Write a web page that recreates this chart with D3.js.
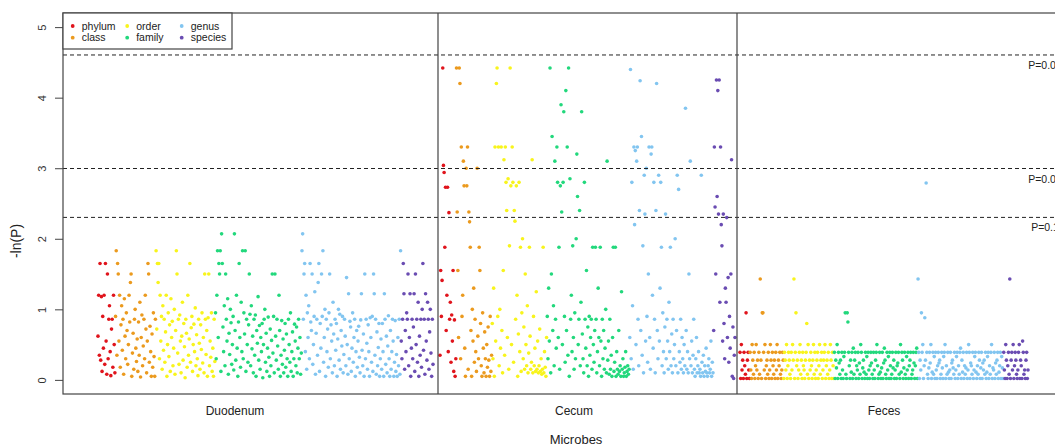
<!DOCTYPE html>
<html>
<head>
<meta charset="utf-8">
<script src="https://cdn.jsdelivr.net/npm/d3@7"></script>
<style>
    body { margin: 0; background: #fff; }
    svg { display: block; font-family: 'Liberation Sans', Arial, sans-serif; }
</style>
</head>
<body>
<div id="chart"></div>
<script>
// Data
const levels = ["phylum", "class", "order", "family", "genus", "species"]
const levelColors = ["#e0141c", "#eb9a1e", "#f8f41c", "#22d87c", "#82c5f0", "#6a4cb2"]
const panelNames = ["Duodenum", "Cecum", "Feces"]
const yTicks = [0, 1, 2, 3, 4, 5]
const thresholds = [4.605, 2.996, 2.303]
const thresholdLabels = ["P=0.01", "P=0.05", "P=0.1"]

// -ln(P) per taxon, in plotting order
const duoPhylum = [.62,1.2,.35,1.65,.28,1.18,.12,.9,.45,1.2,.22,1.65,.55,.08,1.5,.3,.86,1.05,.4,.06,.72,.86,.18,1.2,.5,.1]
const duoClass = [.9,1.83,.35,1.65,1.5,.55,1.2,.18,.78,1.05,.42,.86,.08,1.15,.62,.3,.95,.7,.22,.5,1.2,.82,1.38,1.5,.05,.38,.66,.15,.86,1.0,.45,.26,.58,.12,.82,.35,1.1,.04,.6,.92,.2,.48,.86,.3,1.2,.72,.1,.55,1.65,1.5,.25,.76,.4,.05,.65,.18,.95,.33,.05,.86]
const duoOrder = [1.83,.72,1.65,1.38,1.65,.3,1.2,.55,.9,.15,1.05,.42,.86,.25,.68,1.2,.05,.5,.95,.33,.78,.12,1.15,.6,.83,.2,.45,1.0,.08,.7,1.83,1.5,.38,.86,.22,.92,.55,.1,.62,1.1,.28,.8,.47,.03,.86,.66,.18,1.2,.35,.58,1.65,.25,.74,.9,.12,.5,.79,.4,1.02,.2,.64,.3,.06,.86,.52,.15,.78,.43,.95,.24,.6,.1,1.5,.86,.36,.7,.05,.88,1.5,.2,.55,.32,.95,.12,.45,.05,.86,.26]
const duoFamily = [.95,.3,1.2,1.83,.6,1.65,1.5,1.83,.12,2.07,1.65,.75,.4,1.05,.2,1.5,.86,.55,1.15,.08,.66,.36,1.0,.81,.22,.5,.9,.14,2.07,.7,.28,1.2,.45,.05,.82,1.65,.6,.18,1.1,.4,1.83,.3,.95,.65,1.83,.12,.86,.5,.25,.78,1.5,.93,.2,1.05,.44,.62,.1,.86,.35,.92,.05,.7,.52,1.18,.28,.77,.15,.6,.4,.8,.03,.5,.86,1.0,.25,.66,.12,.45,.89,.32,.05,.72,.2,.56,1.5,.38,.9,.1,1.5,.62,.28,.86,.48,.15,1.2,.7,.05,.35,.84,.22,.58,.1,.42,.8,.18,.65,.3,.05,.86,.5,.25,.95,.12,.4,.68,.05,.3,.79,.55,.2,.75,.1,.45,.86,.3,.6,.08,.38]
const duoGenus = [1.83,2.07,.86,1.5,1.65,.4,1.2,.15,.95,.6,1.05,.3,1.65,.82,.7,1.5,.22,.5,.9,1.25,.08,.66,.86,.35,1.38,1.65,.12,.8,.45,1.5,.9,1.83,.25,.6,1.0,.05,.86,.4,.72,.18,.95,1.5,.3,.78,.55,.1,1.1,.65,.2,.86,.42,.8,.05,.58,1.0,.28,.93,.15,.7,.48,.9,.1,.36,.86,.62,.2,1.45,.5,.08,1.22,.3,.83,.75,.12,.45,.95,.25,.6,.86,.05,.4,.7,.18,.55,.76,.32,.1,.85,1.22,.42,.2,.65,.05,1.5,.3,.86,.52,.15,.78,.4,.05,.88,.6,.25,.9,.12,1.5,1.22,.35,.86,.08,.68,.2,.46,.8,.05,.3,.58,.15,.8,.4,.05,1.22,.86,.22,.62,.1,.48,.91,.3,.05,.7,.15,.4,.86,.55,.05,.25,.84,.12,.36,.05,.6,.2,.86,.08,1.83]
const duoSpecies = [.55,.3,.86,1.65,1.22,.15,.7,.4,.95,.86,1.5,.2,.6,1.22,.05,.45,.86,.3,.75,1.22,.12,1.5,.5,.86,.25,1.1,.05,.62,.35,.86,.18,1.0,1.65,.42,.86,.08,1.22,.55,.28,1.1,.86,.15,.68,1.0,.38,.05,.86,.22]

const cecPhylum = [.35,1.55,.9,1.41,4.42,3.04,2.94,1.88,2.73,.7,1.2,2.73,.4,2.37,.86,1.1,.25,.92,.55,1.55,.12,.85,.05,.3]
const cecClass = [4.42,2.38,1.55,.6,4.42,4.2,.3,3.3,.9,1.2,3.1,2.75,.45,.05,3.0,2.75,3.3,.15,2.38,2.24,1.88,.7,.05,1.0,.55,1.3,.25,.86,.4,.12,3.0,.62,.3,1.88,1.55,.8,.2,.05,.95,.45,.1,.68,.3,.05,.5,.18,.75,.28,.05,.9,.12,.35]
const cecOrder = [.8,.3,1.3,.05,3.3,.55,4.2,4.42,.9,3.3,.2,1.0,.45,3.3,.7,.1,1.55,3.12,.35,3.3,2.8,2.4,.6,2.85,.15,1.9,4.42,2.75,.5,3.3,2.8,.25,2.4,2.25,.86,2.75,1.2,.05,.65,2.8,.4,1.88,.12,.95,2.0,.3,.75,.15,1.5,.5,.2,1.05,.1,.38,1.88,.62,.15,.25,3.12,.1,.9,.2,.45,.12,1.25,.15,.55,.1,.2,.72,.12,.3,.08,.15,1.88,.1,.4,.18,.05,.6]
const cecFamily = [.9,.3,1.3,.55,4.42,.1,1.5,3.45,.7,1.05,.2,3.1,.86,.45,3.3,2.8,.6,1.88,.15,2.75,3.9,2.38,.5,2.8,3.8,.9,.25,4.1,.7,3.3,.35,4.42,.05,2.85,.86,1.2,.4,1.9,.6,.15,.95,.3,2.0,3.2,2.6,.5,.86,2.4,.2,1.1,3.8,.65,.3,.1,2.8,.86,.45,1.55,.2,.75,.05,.9,.35,.6,.86,.15,1.88,.5,.25,.7,1.88,.86,.1,.4,1.3,.6,.2,1.88,.55,.05,.86,.3,.7,.15,.45,1.0,.1,3.1,.28,.55,.08,.86,.15,.35,.05,.6,1.88,.12,.25,1.88,.05,.4,.15,.08,.7,.12,.2,.05,1.25,.15,.3,.05,.1,.18,.4,.05,.12,.2,.08,.15]
const cecGenus = [.6,4.4,.3,2.8,1.05,.15,3.3,2.2,3.25,.5,3.1,3.3,.86,.2,2.4,4.24,.7,3.45,.35,1.9,.1,2.9,2.35,.55,3.0,.9,.25,1.5,3.3,.6,.15,3.2,3.3,1.2,.45,2.8,.86,.1,2.4,4.2,.7,.3,2.9,.55,1.3,2.8,1.88,.2,.95,.4,.1,.75,2.35,.3,.86,.55,.15,1.1,.4,1.88,.2,.65,.1,.86,.3,.5,2.0,.2,.7,2.9,.1,2.7,.4,.25,.86,.15,.6,.3,.1,.5,.2,3.85,.7,.15,.4,.1,1.5,.3,3.1,.2,.55,.1,.35,.86,.15,.05,.3,.6,.1,.2,.4,.1,.15,.05,2.9,.25,.1,.35,.05,.2,.12,.45,.1,.05,.2,.3,.1,.15,.55,.05,.25,.1]
const cecSpecies = [.7,3.3,2.45,1.5,4.25,2.6,4.1,2.35,4.25,1.1,3.3,2.2,1.9,.55,2.35,.8,.3,1.3,1.1,2.3,.6,1.45,.25,.9,.45,1.5,3.12,.05,.75,.02,.35,.6]

const fecPhylum = [.39,.02,.5,.14,.28,.02,.39,.2,.08,.95,.02,.28,.39,.14,.02]
const fecClass = [.39,.14,.02,.5,.28,.08,.39,.02,.2,.5,.14,.28,.02,.39,.08,1.43,.28,.02,.95,.95,.39,.14,.5,.02,.2,.28,.08,.39,.02,.14,.5,.28,.02,.39,.2,.08,.28,.02,.39,.14,.5,.02,.28,.2,.39,.08,.02,.14,.39,.28]
const fecOrder = [.02,.39,.28,.14,.5,.02,.2,.39,.28,.08,.02,.39,.14,.5,.28,1.43,.02,.39,.95,.2,.28,.02,.14,.39,.5,.08,.28,.02,.39,.2,.14,.02,.28,.39,.8,.08,.5,.02,.28,.14,.39,.2,.02,.28,.5,.08,.39,.02,.14,.28,.39,.02,.2,.5,.08,.28,.39,.02,.14,.28,.39,.5,.02,.2,.28,.08,.39,.02,.14,.5,.28,.02,.39,.2,.02]
const fecFamily = [.39,.02,.28,.17,.5,.02,.39,.24,.08,.28,.02,.39,.14,.02,.33,.39,.95,.08,.02,.95,.82,.39,.2,.02,.28,.11,.39,.02,.45,.08,.28,.39,.02,.2,.14,.39,.02,.24,.08,.5,.39,.02,.17,.28,.11,.02,.39,.08,.33,.02,.39,.14,.02,.2,.39,.24,.08,.02,.39,.14,.02,.28,.39,.5,.2,.02,.08,.39,.11,.02,.17,.39,.02,.24,.45,.28,.08,.02,.39,.14,.33,.02,.39,.2,.02,.08,.39,.17,.28,.02,.14,.39,.02,.2,.24,.39,.08,.02,.5,.11,.39,.28,.02,.17,.39,.08,.02,.33,.14,.39,.02,.2,.28,.39,.02,.08,.14,.39,.24,.02,.2,.39,.45,.02]
const fecGenus = [1.43,.39,.02,.28,.14,.95,.39,.5,.02,.2,.88,.28,2.79,.39,.08,.02,.17,.39,.24,.5,.02,.11,.39,.08,.33,.02,.39,.14,.02,.2,.39,.24,.28,.02,.08,.39,.17,.02,.33,.39,.5,.02,.2,.08,.39,.11,.02,.14,.39,.02,.24,.28,.17,.08,.39,.02,.14,.33,.39,.02,.2,.08,.39,.45,.02,.28,.11,.39,.02,.2,.08,.17,.39,.02,.14,.5,.39,.02,.24,.2,.08,.39,.02,.14,.33,.39,.11,.02,.2,.08,.39,.28,.02,.17,.39,.02,.24,.14,.28,.08,.39,.02,.11,.33,.39,.02,.2,.08,.39,.5,.02,.17,.14,.39,.02,.24,.08,.28,.39,.02,.11,.2,.39,.02,.33,.17,.02]
const fecSpecies = [.39,.14,.02,.5,.28,.02,.2,.39,.08,1.43,.02,.28,.39,.14,.5,.02,.2,.39,.28,.08,.02,.14,.39,.5,.02,.28,.2,.02,.55,.39,.08,.14,.02,.28,.39,.02,.14]

const panelData = [
    [duoPhylum, duoClass, duoOrder, duoFamily, duoGenus, duoSpecies],
    [cecPhylum, cecClass, cecOrder, cecFamily, cecGenus, cecSpecies],
    [fecPhylum, fecClass, fecOrder, fecFamily, fecGenus, fecSpecies]
]

// Layout
const width = 1055
const height = 446
const frame = { left: 63, right: 1080, top: 13, bottom: 394 }
const dividers = [438, 737]
const panelRanges = [[98, 433], [440, 735], [740, 1028]]
const panelLabelX = [235, 574, 884]
const fontFamily = "'Liberation Sans', Arial, sans-serif"

const svg = d3.select("#chart")
    .append("svg")
    .attr("width", width)
    .attr("height", height)

svg.append("rect")
    .attr("width", width)
    .attr("height", height)
    .attr("fill", "#fff")

// Scales
const y = d3.scaleLinear()
    .domain([-0.2, 5.2])
    .range([frame.bottom, frame.top])

// Flatten each panel into points with a running index
const points = []
const xScales = panelData.map((series, p) => {
    let idx = 0
    series.forEach((values, l) => {
        values.forEach(v => {
            points.push({ panel: p, level: l, index: idx, value: v })
            idx++
        })
    })
    return d3.scaleLinear()
        .domain([0, idx - 1])
        .range(panelRanges[p])
})

// Points
const elementGroup = svg.append("g").attr("id", "elementGroup")

elementGroup.selectAll("circle")
    .data(points)
    .join("circle")
    .attr("cx", d => xScales[d.panel](d.index))
    .attr("cy", d => y(d.value))
    .attr("r", 1.8)
    .attr("fill", d => levelColors[d.level])

// Threshold lines
const thresholdGroup = svg.append("g").attr("id", "thresholdGroup")

thresholdGroup.selectAll("line")
    .data(thresholds)
    .join("line")
    .attr("x1", frame.left)
    .attr("x2", width)
    .attr("y1", d => y(d))
    .attr("y2", d => y(d))
    .attr("stroke", "#222")
    .attr("stroke-width", 1)
    .attr("stroke-dasharray", "4,3")

// labels sit centred near the right edge, partly cut off as in the original
thresholdGroup.selectAll("text")
    .data(thresholds)
    .join("text")
    .attr("x", 1045)
    .attr("y", d => y(d) + 14)
    .attr("text-anchor", "middle")
    .style("font-size", "10.5px")
    .style("font-family", fontFamily)
    .style("fill", "#222")
    .text((d, i) => thresholdLabels[i])

// Frame and panel dividers
svg.append("rect")
    .attr("x", frame.left)
    .attr("y", frame.top)
    .attr("width", frame.right - frame.left)
    .attr("height", frame.bottom - frame.top)
    .attr("fill", "none")
    .attr("stroke", "#444")
    .attr("stroke-width", 1.2)

svg.selectAll(".divider")
    .data(dividers)
    .join("line")
    .attr("class", "divider")
    .attr("x1", d => d)
    .attr("x2", d => d)
    .attr("y1", frame.top)
    .attr("y2", frame.bottom)
    .attr("stroke", "#444")
    .attr("stroke-width", 1.2)

// Y axis
const yAxisGroup = svg.append("g")
    .attr("id", "yAxisGroup")
    .attr("transform", `translate(${frame.left}, 0)`)

yAxisGroup.call(d3.axisLeft(y).tickValues(yTicks).tickSize(8).tickFormat(d3.format("d")))
yAxisGroup.select(".domain").remove()
yAxisGroup.selectAll("line")
    .attr("stroke", "#444")
yAxisGroup.selectAll("text")
    .attr("x", null)
    .attr("dy", null)
    .attr("transform", "translate(-17, 0) rotate(-90)")
    .attr("text-anchor", "middle")
    .style("font-size", "11px")
    .style("font-family", fontFamily)
    .style("fill", "#333")

svg.append("text")
    .attr("transform", "translate(21, 241) rotate(-90)")
    .attr("text-anchor", "middle")
    .style("font-size", "14px")
    .style("font-family", fontFamily)
    .style("fill", "#222")
    .text("-ln(P)")

// Panel labels and x title
svg.selectAll(".panelLabel")
    .data(panelNames)
    .join("text")
    .attr("class", "panelLabel")
    .attr("x", (d, i) => panelLabelX[i])
    .attr("y", 415)
    .attr("text-anchor", "middle")
    .style("font-size", "12px")
    .style("font-family", fontFamily)
    .style("fill", "#222")
    .text(d => d)

svg.append("text")
    .attr("x", 576)
    .attr("y", 444)
    .attr("text-anchor", "middle")
    .style("font-size", "13px")
    .style("font-family", fontFamily)
    .style("fill", "#222")
    .text("Microbes")

// Legend
const legend = svg.append("g").attr("id", "legend")

legend.append("rect")
    .attr("x", frame.left)
    .attr("y", frame.top)
    .attr("width", 169)
    .attr("height", 36)
    .attr("fill", "#fff")
    .attr("stroke", "#444")
    .attr("stroke-width", 1.2)

const legendItems = legend.selectAll(".legendItem")
    .data(levels)
    .join("g")
    .attr("class", "legendItem")
    .attr("transform", (d, i) => `translate(${72.7 + Math.floor(i / 2) * 54.5}, ${26 + (i % 2) * 11.7})`)

legendItems.append("circle")
    .attr("r", 1.9)
    .attr("fill", (d, i) => levelColors[i])

legendItems.append("text")
    .attr("x", 9)
    .attr("dy", "0.35em")
    .style("font-size", "10.5px")
    .style("font-family", fontFamily)
    .style("fill", "#222")
    .text(d => d)
</script>
</body>
</html>
